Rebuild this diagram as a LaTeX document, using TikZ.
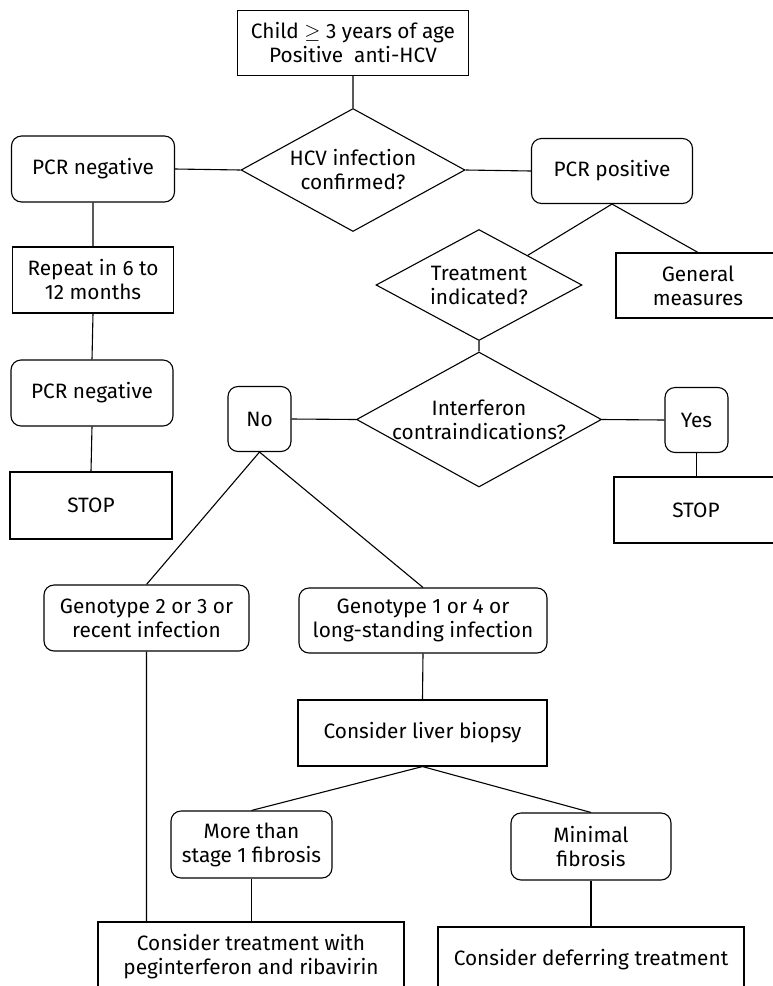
\documentclass[tikz,border=0pt]{standalone}
\usepackage{fontspec}
\setmainfont{Fira Sans}
\usepackage{amsmath}
\usepackage{amssymb}
\usepackage{tikz}
\usetikzlibrary{shapes.geometric}

\begin{document}
\begin{tikzpicture}[x=1pt,y=-1pt,line width=1.1pt,
            every node/.style={font=\fontsize{20.8}{24}\selectfont,align=center,inner sep=0pt},
            sqbox/.style={draw,rectangle},
            rndbox/.style={draw,rectangle,rounded corners=10pt},
            query/.style={draw,diamond,aspect=1.83,inner sep=-8pt}]
            \useasboundingbox (0,0) rectangle (773,986);
            \clip (0,0) rectangle (773,986);

            \node[sqbox,minimum width=231pt,minimum height=65pt] (child) at (353,43) {Child $\geq$ 3 years of age\\Positive\ \ anti-HCV};
            \node[query,minimum width=224pt,minimum height=123pt] (hcv) at (353,170) {HCV infection\\confirmed?};
            \node[rndbox,minimum width=163pt,minimum height=66pt] (pcrneg) at (93,169) {PCR negative};
            \node[rndbox,minimum width=161pt,minimum height=65pt] (pcrpos) at (612,171) {PCR positive};
            \node[query,minimum width=206pt,minimum height=111pt] (treat) at (479,285) {Treatment\\indicated?};
            \node[sqbox,minimum width=164pt,minimum height=65pt] (general) at (698,285.5) {General\\measures};
            \node[sqbox,minimum width=161pt,minimum height=66pt] (repeat) at (93,280) {Repeat in 6 to\\12 months};
            \node[rndbox,minimum width=162pt,minimum height=66pt] (pcrneg2) at (92,393) {PCR negative};
            \node[sqbox,minimum width=162pt,minimum height=67pt] (stopl) at (91,505.5) {STOP};
            \node[query,minimum width=245pt,minimum height=135pt] (interf) at (479,419.5) {Interferon\\contraindications?};
            \node[rndbox,minimum width=63pt,minimum height=65pt] (no) at (259.5,419) {No};
            \node[rndbox,minimum width=63pt,minimum height=65pt] (yes) at (696.5,420) {Yes};
            \node[sqbox,minimum width=164pt,minimum height=66pt] (stopr) at (696,510) {STOP};
            \node[rndbox,minimum width=205pt,minimum height=66pt] (geno23) at (146.5,618) {Genotype 2 or 3 or\\recent infection};
            \node[rndbox,minimum width=248pt,minimum height=65pt] (geno14) at (423,620.5) {Genotype 1 or 4 or\\long-standing infection};
            \node[sqbox,minimum width=249pt,minimum height=66pt] (biopsy) at (422.5,733) {Consider liver biopsy};
            \node[rndbox,minimum width=161pt,minimum height=67pt] (stage) at (251.5,844.5) {More than\\stage 1 fibrosis};
            \node[rndbox,minimum width=160pt,minimum height=67pt] (minimal) at (591,846.5) {Minimal\\fibrosis};
            \node[sqbox,minimum width=306pt,minimum height=70pt] (peg) at (251,957) {Consider treatment with\\peginterferon and ribavirin};
            \node[sqbox,minimum width=306pt,minimum height=66pt] (defer) at (591,960) {Consider deferring treatment};

            \draw (child.south) -- (hcv.north) (pcrneg.east) -- (hcv.west) (hcv.east) -- (pcrpos.west);
            \draw (pcrneg.south) -- (repeat.north) (repeat.south) -- (pcrneg2.north) (pcrneg2.south) -- (stopl.north);
            \draw (treat) -- (pcrpos.south) -- (general.north);
            \draw (treat.south) -- (interf.north) (no.east) -- (interf.west) (interf.east) -- (yes.west);
            \draw (yes.south) -- (yes.south |- stopr.north);
            \draw (geno23.north) -- (no.south) -- (geno14.north);
            \draw (geno23.south) -- (geno23.south |- peg.north) (geno14.south) -- (biopsy.north);
            \draw (stage.north) -- (biopsy.south) -- (minimal.north);
            \draw (stage.south) -- (stage.south |- peg.north) (minimal.south) -- (defer.north);
        \end{tikzpicture}
\end{document}
